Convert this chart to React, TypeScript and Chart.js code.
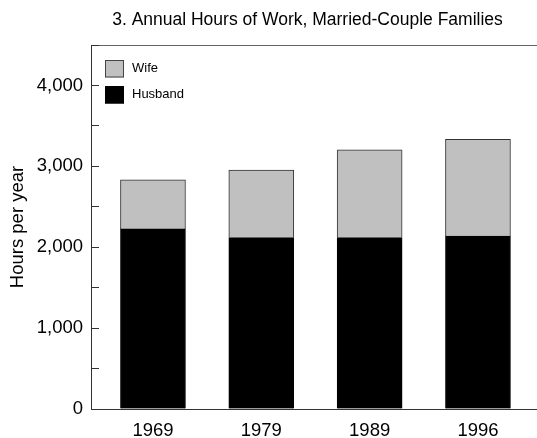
import { useEffect, useRef } from 'react';
import { Chart, registerables } from 'chart.js';

Chart.register(...registerables);

const chartTitle = '3. Annual Hours of Work, Married-Couple Families';
const yAxisTitle = 'Hours per year';
const years = ['1969', '1979', '1989', '1996'];
const husbandHours = [2226, 2119, 2119, 2139];
const wifeHours = [607, 834, 1086, 1194];
const yMin = 0;
const yMax = 4500;
const yStep = 500;
const yLabelStep = 1000;

const FONT = '"Liberation Sans", Arial, sans-serif';

const titlePlugin = {
  id: 'customTitle',
  afterDraw(chart: any) {
    const { ctx } = chart;
    ctx.save();
    ctx.font = `17.5px ${FONT}`;
    ctx.fillStyle = '#000';
    ctx.textAlign = 'center';
    ctx.textBaseline = 'middle';
    ctx.fillText(chartTitle, 307.5, 20);
    ctx.restore();
  },
};

const legendPlugin = {
  id: 'insideLegend',
  afterDraw(chart: any) {
    const { ctx, chartArea } = chart;
    const ds = chart.data.datasets.slice().reverse();
    ctx.save();
    ctx.font = `13px ${FONT}`;
    ctx.textBaseline = 'middle';
    ctx.textAlign = 'left';
    ds.forEach((d: any, i: number) => {
      const x = chartArea.left + 14;
      const y = chartArea.top + 15 + i * 26;
      const w = 19;
      const h = 17.5;
      ctx.fillStyle = d.backgroundColor;
      ctx.fillRect(x, y, w, h);
      ctx.strokeStyle = d.legendBorder;
      ctx.lineWidth = 1;
      ctx.strokeRect(x + 0.5, y + 0.5, w - 1, h - 1);
      ctx.fillStyle = '#000';
      ctx.fillText(d.label, x + w + 8, y + h / 2);
    });
    ctx.restore();
  },
};

export default function App() {
  const ref = useRef<HTMLCanvasElement | null>(null);

  useEffect(() => {
    if (!ref.current) return;
    const chart = new Chart(ref.current, {
      type: 'bar',
      data: {
        datasets: [
          {
            label: 'Husband',
            data: husbandHours.map((v, i) => ({ x: i, y: v })),
            backgroundColor: '#000000',
            borderColor: '#000000',
            borderWidth: 1,
            barThickness: 65,
            legendBorder: '#000000',
          } as any,
          {
            label: 'Wife',
            data: wifeHours.map((v, i) => ({ x: i, y: v })),
            backgroundColor: '#c0c0c0',
            borderColor: '#333333',
            borderWidth: 1,
            barThickness: 65,
            legendBorder: '#444444',
          } as any,
        ],
      },
      options: {
        responsive: false,
        animation: false,
        layout: { padding: { top: 45, left: 0, right: 0, bottom: 0 } },
        plugins: {
          legend: { display: false },
          title: { display: false },
          tooltip: { enabled: false },
        },
        scales: {
          x: {
            type: 'linear',
            stacked: true,
            offset: false,
            min: -0.572,
            max: 3.545,
            afterBuildTicks: (scale: any) => {
              scale.ticks = years.map((_, i) => ({ value: i }));
            },
            afterFit: (scale: any) => {
              scale.height = 29;
            },
            grid: { display: false, offset: false },
            border: { display: true, color: '#333333', width: 1 },
            ticks: {
              autoSkip: false,
              maxRotation: 0,
              padding: 3,
              color: '#000',
              font: { family: FONT, size: 18.5 },
              callback: (v: any) => years[v] ?? '',
            },
          },
          y: {
            type: 'linear',
            stacked: true,
            min: yMin,
            max: yMax,
            afterFit: (scale: any) => {
              scale.width = 91;
            },
            grid: {
              display: true,
              drawOnChartArea: true,
              drawTicks: true,
              tickLength: -8,
              color: (c: any) => (c.tick && c.tick.value === yMax ? '#666666' : 'rgba(0,0,0,0)'),
              tickColor: '#333333',
              lineWidth: 1,
            },
            border: { display: true, color: '#333333', width: 1 },
            ticks: {
              stepSize: yStep,
              padding: 16,
              color: '#000',
              font: { family: FONT, size: 18.5 },
              callback: (v: any) => (v % yLabelStep === 0 ? Number(v).toLocaleString('en-US') : ''),
            },
            title: {
              display: true,
              text: yAxisTitle,
              color: '#000',
              font: { family: FONT, size: 18.5 },
              padding: { top: 7, bottom: 0 },
            },
          },
        },
      } as any,
      plugins: [titlePlugin, legendPlugin],
    });
    return () => chart.destroy();
  }, []);

  return (
    <div style={{ position: 'fixed', left: 0, top: 0, width: 537, height: 438, background: '#fff' }}>
      <canvas ref={ref} width={537} height={438} />
    </div>
  );
}
